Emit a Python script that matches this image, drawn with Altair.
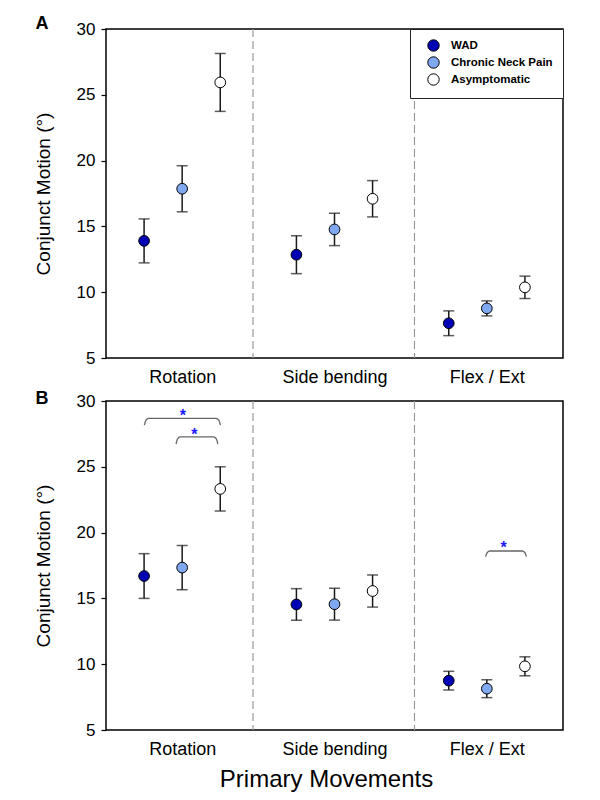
import altair as alt
import pandas as pd

FONT = "Liberation Sans"

groups = ["WAD", "Chronic Neck Pain", "Asymptomatic"]
group_colors = ["#0000b4", "#80a8f0", "#ffffff"]
movements = ["Rotation", "Side bending", "Flex / Ext"]
offsets = [-0.25, 0.0, 0.25]
dividers = [1.465, 2.525]

# Panel A (means and half error bars), per group, per movement
a_wad = [13.9, 12.85, 7.64]
a_wad_err = [1.67, 1.44, 0.94]
a_cnp = [17.86, 14.77, 8.77]
a_cnp_err = [1.75, 1.23, 0.57]
a_asym = [25.94, 17.1, 10.37]
a_asym_err = [2.2, 1.38, 0.85]

# Panel B
b_wad = [16.7, 14.54, 8.75]
b_wad_err = [1.7, 1.2, 0.71]
b_cnp = [17.34, 14.56, 8.14]
b_cnp_err = [1.68, 1.21, 0.68]
b_asym = [23.32, 15.56, 9.84]
b_asym_err = [1.68, 1.22, 0.72]

# Significance brackets in panel B: x1, x2, y of bar, y of ends
brackets_b = [(0.752, 1.251, 28.68, 28.17),
              (0.96, 1.234, 27.28, 26.73),
              (2.992, 3.26, 18.6, 18.17)]
stars_b = [(1.004, 29.19), (1.08, 27.74), (3.11, 19.1)]

panel_labels = ["A", "B"]


def make_df(means, errs):
    rows = []
    for gi, g in enumerate(groups):
        for mi, m in enumerate(movements):
            v = means[gi][mi]
            e = errs[gi][mi]
            rows.append({"group": g, "movement": m, "x": mi + 1 + offsets[gi],
                         "mean": v, "lo": v - e, "hi": v + e})
    return pd.DataFrame(rows)


label_expr = ("datum.value == 1 ? '%s' : datum.value == 2 ? '%s' : '%s'"
              % tuple(movements))

xscale = alt.Scale(domain=[0.5, 3.5], nice=False, zero=False)
yscale = alt.Scale(domain=[5, 30], nice=False, zero=False)


def panel(df, label, show_legend, show_title, brackets, stars, label_dy):
    x_axis = alt.Axis(values=[1, 2, 3], labelExpr=label_expr, ticks=False,
                      tickSize=0, grid=False, domain=False, labelFontSize=18,
                      labelPadding=10, labelColor="black", labelFont=FONT,
                      title="Primary Movements" if show_title else None,
                      titleFontSize=24, titleFontWeight="normal", titleFont=FONT,
                      titleColor="black", titlePadding=9, titleX=220)
    y_axis = alt.Axis(values=[5, 10, 15, 20, 25, 30], grid=False, domain=False,
                      tickSize=5, tickColor="black", tickWidth=1.2,
                      labelFontSize=17, labelPadding=6, labelColor="black",
                      labelFont=FONT, title="Conjunct Motion (°)",
                      titleFontSize=19, titleFontWeight="normal", titleFont=FONT,
                      titleColor="black", titlePadding=23)

    div_df = pd.DataFrame({"x": dividers})
    dividers_layer = alt.Chart(div_df).mark_rule(
        color="#9a9a9a", strokeDash=[8, 4], strokeWidth=1.2
    ).encode(x=alt.X("x:Q", scale=xscale, axis=x_axis))

    base = alt.Chart(df)
    err = base.mark_rule(color="#1a1a1a", strokeWidth=1.5).encode(
        x=alt.X("x:Q", scale=xscale, axis=x_axis),
        y=alt.Y("lo:Q", scale=yscale, axis=y_axis),
        y2="hi:Q")
    cap_lo = base.mark_tick(orient="horizontal", size=11, thickness=1.5,
                            color="#1a1a1a").encode(
        x=alt.X("x:Q", scale=xscale), y=alt.Y("lo:Q", scale=yscale))
    cap_hi = base.mark_tick(orient="horizontal", size=11, thickness=1.5,
                            color="#1a1a1a").encode(
        x=alt.X("x:Q", scale=xscale), y=alt.Y("hi:Q", scale=yscale))

    legend = None
    if show_legend:
        legend = alt.Legend(title=None, orient="top-right", offset=0,
                            labelFont=FONT, labelFontWeight="bold",
                            labelFontSize=11.5, labelColor="black",
                            symbolType="circle", symbolSize=130,
                            symbolStrokeColor="black", symbolStrokeWidth=1,
                            symbolOffset=7, labelOffset=11, rowPadding=0,
                            padding=10, strokeColor="#222222",
                            fillColor="white")
    pts = base.mark_circle(size=115, opacity=1, stroke="black",
                           strokeWidth=1).encode(
        x=alt.X("x:Q", scale=xscale),
        y=alt.Y("mean:Q", scale=yscale),
        color=alt.Color("group:N", scale=alt.Scale(domain=groups,
                                                   range=group_colors),
                        legend=legend))

    layers = [dividers_layer, err, cap_lo, cap_hi, pts]

    if brackets:
        rows = []
        d = 0.028
        for bi, (x1, x2, yh, ye) in enumerate(brackets):
            for oi, (xx, yy) in enumerate([(x1, ye), (x1 + d * 0.35, yh - 0.3 * (yh - ye)),
                                           (x1 + d, yh), (x2 - d, yh),
                                           (x2 - d * 0.35, yh - 0.3 * (yh - ye)),
                                           (x2, ye)]):
                rows.append({"b": bi, "o": oi, "x": xx, "y": yy})
        bdf = pd.DataFrame(rows)
        layers.append(alt.Chart(bdf).mark_line(
            color="#666666", strokeWidth=1.3, interpolate="monotone").encode(
            x=alt.X("x:Q", scale=xscale), y=alt.Y("y:Q", scale=yscale),
            detail="b:N", order="o:Q"))
        sdf = pd.DataFrame({"x": [s[0] for s in stars],
                            "y": [s[1] for s in stars],
                            "t": ["*"] * len(stars)})
        layers.append(alt.Chart(sdf).mark_text(
            color="#1a1aff", fontSize=16, fontWeight="bold", font=FONT,
            baseline="middle", dy=4).encode(
            x=alt.X("x:Q", scale=xscale), y=alt.Y("y:Q", scale=yscale),
            text="t:N"))

    ldf = pd.DataFrame({"t": [label]})
    layers.append(alt.Chart(ldf).mark_text(
        fontSize=18, fontWeight="bold", font=FONT, color="black",
        baseline="middle", align="center").encode(
        x=alt.value(-64), y=alt.value(label_dy), text="t:N"))

    return alt.layer(*layers).properties(width=457, height=329)


dfA = make_df([a_wad, a_cnp, a_asym], [a_wad_err, a_cnp_err, a_asym_err])
dfB = make_df([b_wad, b_cnp, b_asym], [b_wad_err, b_cnp_err, b_asym_err])

pA = panel(dfA, panel_labels[0], True, False, None, None, -5)
pB = panel(dfB, panel_labels[1], False, True, brackets_b, stars_b, -2)

chart = alt.vconcat(pA, pB, spacing=43, bounds="flush").resolve_scale(
    color="independent"
).properties(
    padding={"left": 25, "top": 6, "right": 5, "bottom": 5},
    background="white"
).configure_view(stroke="black", strokeWidth=1.5)

chart.save("out.html", embed_options={"renderer": "svg", "actions": False})
